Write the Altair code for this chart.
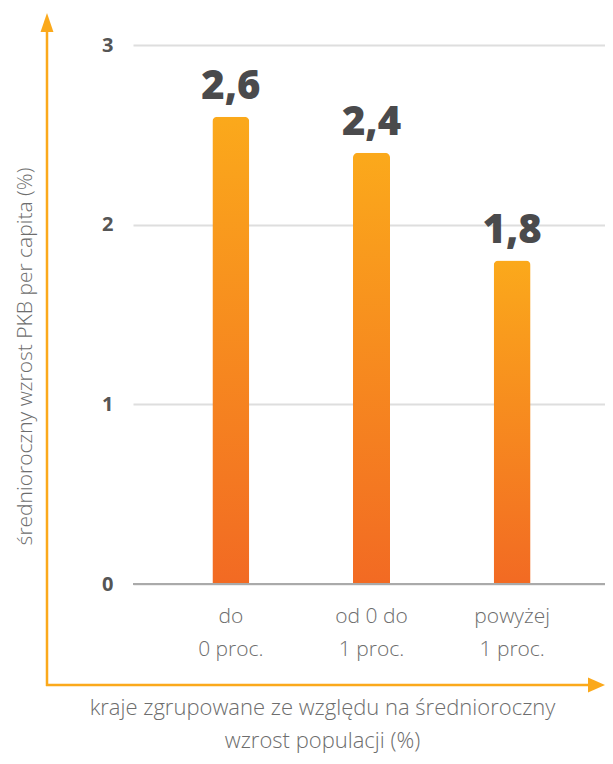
import altair as alt
import pandas as pd

categories = ["do|0 proc.", "od 0 do|1 proc.", "powyżej|1 proc."]
values = [2.6, 2.4, 1.8]
value_labels = ["2,6", "2,4", "1,8"]
y_ticks = [0, 1, 2, 3]

y_title = "średnioroczny wzrost PKB per capita (%)"
x_title = ["kraje zgrupowane ze względu na średnioroczny", "wzrost populacji (%)"]

df = pd.DataFrame({"kat": categories, "val": values, "lab": value_labels})

ORANGE = "#FBA91B"
FONT = "Open Sans"
W, H = 472, 539

x_enc = alt.X(
    "kat:N", sort=categories,
    scale=alt.Scale(paddingInner=0, paddingOuter=0.178, align=0.55),
    axis=alt.Axis(
        title=x_title, labelExpr="split(datum.label, '|')", labelAngle=0,
        ticks=False, tickSize=0, domain=False,
        labelFont=FONT, labelFontSize=21, labelFontWeight=300, labelColor="#6d6d6d",
        labelLineHeight=33, labelBaseline="alphabetic", labelPadding=38,
        titleFont=FONT, titleFontSize=22, titleFontWeight=300, titleColor="#6d6d6d",
        titleLineHeight=33, titleX=189, titleY=130, titleBaseline="alphabetic",
    ),
)
y_enc = alt.Y(
    "val:Q", scale=alt.Scale(domain=[0, 3]),
    axis=alt.Axis(
        values=y_ticks, format="d", title=y_title, ticks=False, tickSize=0, domain=False,
        labelFont=FONT, labelFontSize=20, labelFontWeight="bold", labelColor="#555555",
        labelPadding=20, gridColor="#dedede", gridWidth=2,
        titleFont=FONT, titleFontSize=21, titleFontWeight=300, titleColor="#6d6d6d",
        titleAngle=270, titleX=-102, titleY=311, titleBaseline="alphabetic",
    ),
)

gradient = alt.Gradient(
    gradient="linear",
    stops=[alt.GradientStop(color="#FBA91B", offset=0), alt.GradientStop(color="#F26A23", offset=1)],
    x1=1, x2=1, y1=0, y2=1,
)

base = alt.Chart(df)
bars = base.mark_bar(size=37, color=gradient, cornerRadiusTopLeft=5, cornerRadiusTopRight=5).encode(x=x_enc, y=y_enc)
zero = base.mark_rule(color="#aaaaaa", strokeWidth=2).encode(y=alt.datum(0))
labels = base.mark_text(dy=-18, baseline="alphabetic", fontSize=40, font=FONT, fontWeight=800,
                        color="#4a4a4c").encode(x=alt.X("kat:N", sort=categories), y="val:Q", text="lab:N")

one = alt.Chart(pd.DataFrame({"a": [0]}))
vline = one.mark_rule(color=ORANGE, strokeWidth=2.5).encode(
    x=alt.value(-86), y=alt.value(641), y2=alt.value(-15))
hline = one.mark_rule(color=ORANGE, strokeWidth=2.5).encode(
    x=alt.value(-87), x2=alt.value(458), y=alt.value(640))
vhead = one.mark_point(shape="M -0.68 1 L 0 -1 L 0.68 1 Z", size=361, filled=True, opacity=1,
                       color=ORANGE, strokeWidth=0).encode(x=alt.value(-86), y=alt.value(-22.5))
hhead = one.mark_point(shape="M -1 -0.88 L 1 0 L -1 0.88 Z", size=289, filled=True, opacity=1,
                       color=ORANGE, strokeWidth=0).encode(x=alt.value(463.5), y=alt.value(640))

chart = alt.layer(bars, zero, labels, vline, hline, vhead, hhead).properties(
    width=W, height=H,
    autosize=alt.AutoSizeParams(type="none"),
    padding={"left": 125, "top": 37, "right": 0, "bottom": 172},
).configure_view(stroke=None)

chart.save("out.html", embed_options={"renderer": "svg", "actions": False})
